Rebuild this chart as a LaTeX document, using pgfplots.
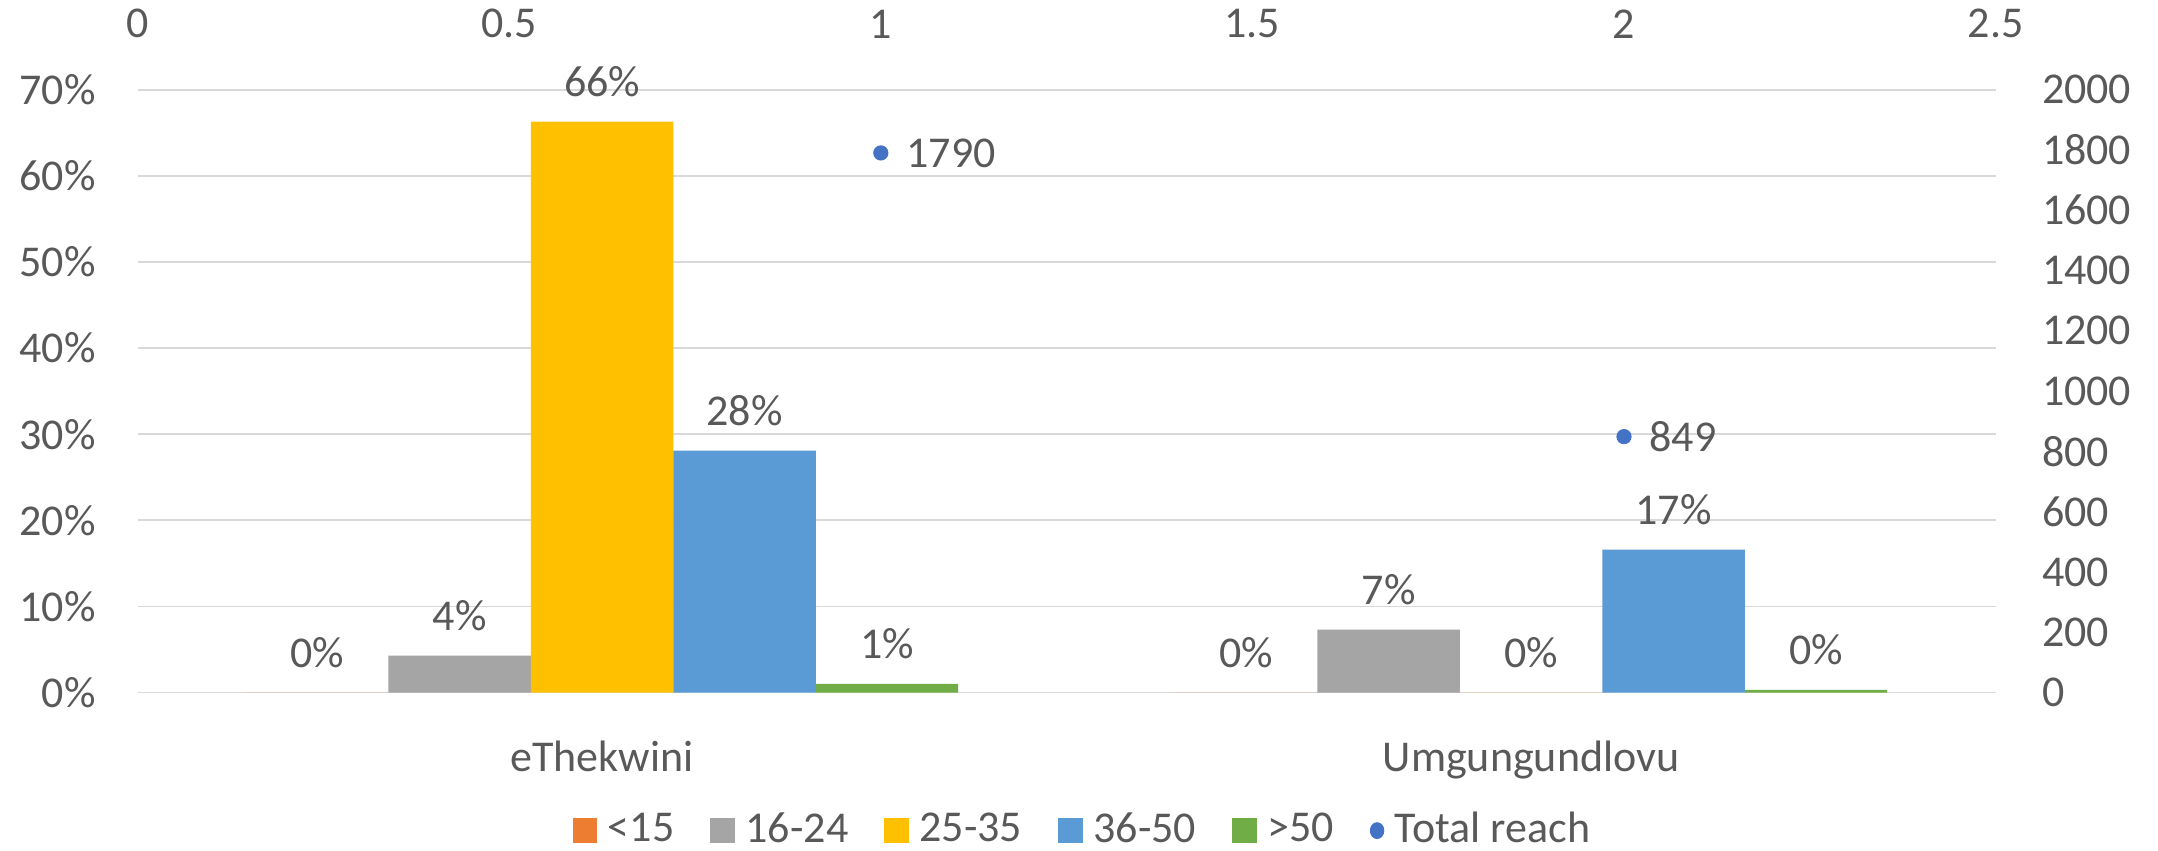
\documentclass[border=0pt]{standalone}
\usepackage{fontspec}
\setmainfont{Carlito}
\usepackage{pgfplots}
\pgfplotsset{compat=1.18}
\definecolor{cA}{HTML}{ED7D31}
\definecolor{cB}{HTML}{A5A5A5}
\definecolor{cC}{HTML}{FFC000}
\definecolor{cD}{HTML}{5B9BD5}
\definecolor{cE}{HTML}{70AD47}
\definecolor{dotc}{HTML}{4472C4}
\definecolor{txt}{HTML}{595959}
\definecolor{gridc}{HTML}{D9D9D9}
\newcommand{\lf}{\fontsize{11}{13}\selectfont}
\begin{document}
\begin{tikzpicture}
\begin{axis}[
 name=main,
 scale only axis, width=464.4pt, height=150.7pt,
 xmin=0, xmax=2, ymin=0, ymax=70,
 clip=false,
 ybar=0pt, bar width=35.6pt,
 xtick={0.5,1.5}, xticklabels={eThekwini,Umgungundlovu},
 ytick={0,10,20,30,40,50,60,70},
 yticklabel={\pgfmathprintnumber{\tick}\%},
 ymajorgrids, grid style={gridc, line width=0.45pt},
 axis line style={draw=none},
 major tick length=0pt,
 /pgf/number format/assume math mode=true,
 tick label style={font=\lf, text=txt},
 yticklabel style={anchor=east, inner sep=0pt, xshift=-10.3pt},
 xticklabel style={anchor=north, inner sep=0pt, yshift=-12pt},
 nodes near coords={\pgfmathprintnumber[fixed,precision=0]{\pgfplotspointmeta}\%},
 every node near coord/.append style={font=\lf, text=txt, inner sep=0pt, anchor=south, yshift=6pt},
 legend style={at={(0.508,-0.229)}, anchor=center, draw=none, legend columns=-1, font=\lf, text=txt,
   nodes={inner sep=0pt},
   /tikz/every odd column/.append style={column sep=2.6pt},
   /tikz/every even column/.append style={column sep=9pt}},
 legend image code/.code={\fill[#1] (0pt,-3.1pt) rectangle (6.2pt,3.1pt);},
]
\addplot[fill=cA, draw=none] coordinates {(0.5,0) (1.5,0)};
\addlegendentry{<15}
\addplot[fill=cB, draw=none] coordinates {(0.5,4.3) (1.5,7.3)};
\addlegendentry{16-24}
\addplot[fill=cC, draw=none] coordinates {(0.5,66.3) (1.5,0)};
\addlegendentry{25-35}
\addplot[fill=cD, draw=none] coordinates {(0.5,28.1) (1.5,16.6)};
\addlegendentry{36-50}
\addplot[fill=cE, draw=none] coordinates {(0.5,1.0) (1.5,0.3)};
\addlegendentry{>50}
\addlegendimage{legend image code/.code={\fill[dotc] (3.1pt,0pt) ellipse (1.6pt and 1.9pt);}}
\addlegendentry{Total reach}
\end{axis}
\begin{axis}[
 scale only axis, width=464.4pt, height=150.7pt,
 xmin=0, xmax=2.5, ymin=0, ymax=2000,
 clip=false,
 axis x line*=top, axis y line*=right,
 axis line style={draw=none},
 major tick length=0pt,
 xtick={0,0.5,1,1.5,2,2.5},
 ytick={0,200,400,600,800,1000,1200,1400,1600,1800,2000},
 /pgf/number format/assume math mode=true,
 /pgf/number format/1000 sep={},
 tick label style={font=\lf, text=txt},
 yticklabel style={anchor=west, inner sep=0pt, xshift=11.4pt},
 xticklabel style={anchor=south, inner sep=0pt, yshift=12.7pt},
]
\addplot[only marks, mark=*, mark size=1.7pt, color=dotc,
  nodes near coords={\pgfmathprintnumber[fixed,precision=0,1000 sep={}]{\pgfplotspointmeta}},
  every node near coord/.append style={font=\lf, text=txt, inner sep=0pt, anchor=west, xshift=6.2pt}]
  coordinates {(1,1790) (2,849)};
\end{axis}
\pgfresetboundingbox
\useasboundingbox (-34.4pt,-39.6pt) rectangle (505pt,173.1pt);
\end{tikzpicture}
\end{document}
